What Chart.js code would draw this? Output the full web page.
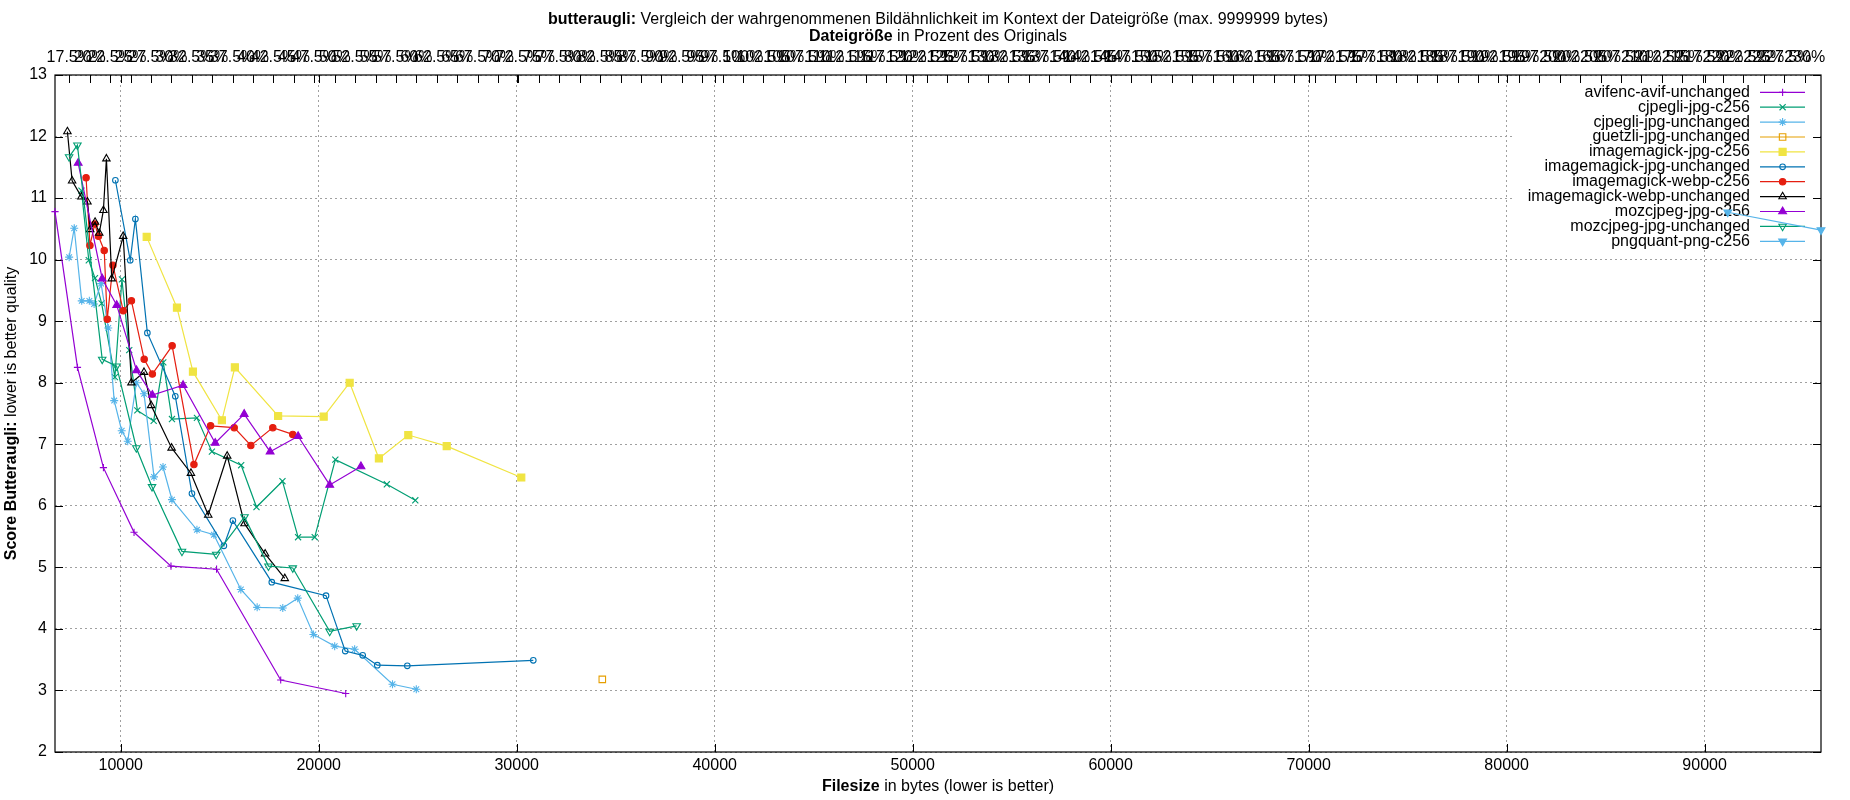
<!DOCTYPE html>
<html>
<head>
<meta charset="utf-8">
<script src="https://cdn.jsdelivr.net/npm/chart.js@4/dist/chart.umd.min.js"></script>
<style>
html,body{margin:0;padding:0;background:#fff;}
#wrap{position:relative;width:1850px;height:800px;}
canvas{display:block;}
</style>
</head>
<body>
<div id="wrap"><canvas id="c" width="1850" height="800" style="width:1850px;height:800px"></canvas></div>
<script>
// ---------- data (filesize in bytes, butteraugli score) ----------
const avifencAvifUnchanged = [[6680,10.78],[7815,8.25],[9126,6.62],[10672,5.57],[12538,5.02],[14840,4.97],[18080,3.17],[21364,2.95]];
const cjpegliJpgC256 = [[8017,11.12],[8387,9.99],[8700,9.70],[9035,9.29],[9705,8.09],[10060,9.68],[10430,8.53],[10840,7.55],[11664,7.38],[12150,8.33],[12588,7.41],[13849,7.43],[14605,6.88],[16084,6.66],[16857,5.98],[18168,6.40],[18958,5.49],[19798,5.49],[20840,6.75],[23440,6.35],[24879,6.09]];
const cjpegliJpgUnchanged = [[7395,10.04],[7650,10.51],[8030,9.33],[8415,9.33],[8655,9.28],[9008,9.61],[9370,8.89],[9670,7.71],[10050,7.22],[10353,7.05],[10790,8.00],[11176,7.82],[11681,6.47],[12135,6.63],[12588,6.10],[13849,5.61],[14706,5.53],[16067,4.64],[16891,4.35],[18185,4.34],[18941,4.50],[19731,3.91],[20807,3.72],[21815,3.67],[23727,3.10],[24929,3.02]];
const guetzliJpgUnchanged = [[34324,3.18]];
const imagemagickJpgC256 = [[11311,10.37],[12840,9.22],[13647,8.18],[15109,7.39],[15765,8.25],[17950,7.46],[20252,7.45],[21563,8.00],[23040,6.77],[24525,7.15],[26465,6.97],[30232,6.46]];
const imagemagickJpgUnchanged = [[9730,11.29],[10480,9.99],[10740,10.66],[11345,8.81],[12757,7.78],[13597,6.20],[15210,5.35],[15664,5.76],[17630,4.76],[20370,4.54],[21340,3.64],[22222,3.57],[22960,3.41],[24475,3.40],[30838,3.49]];
const imagemagickWebpC256 = [[8250,11.33],[8445,10.23],[8690,10.58],[8875,10.38],[9166,10.15],[9318,9.03],[9605,9.91],[10125,9.17],[10540,9.33],[11185,8.38],[11597,8.14],[12597,8.60],[13698,6.67],[14538,7.30],[15731,7.27],[16572,6.98],[17681,7.27],[18689,7.16]];
const imagemagickWebpUnchanged = [[7307,12.08],[7545,11.28],[8014,11.02],[8318,10.94],[8460,10.49],[8704,10.61],[8914,10.43],[9124,10.80],[9277,11.64],[9546,9.69],[10125,10.38],[10540,8.00],[11176,8.17],[11538,7.63],[12571,6.94],[13546,6.53],[14420,5.85],[15378,6.81],[16252,5.71],[17294,5.22],[18286,4.82]];
const mozcjpegJpgC256 = [[7850,11.57],[9065,9.69],[9798,9.26],[10800,8.20],[11597,7.80],[13150,7.96],[14773,7.02],[16235,7.49],[17546,6.88],[18958,7.13],[20555,6.34],[22134,6.64]];
const mozcjpegJpgUnchanged = [[7392,11.67],[7812,11.86],[9065,8.38],[9790,8.27],[10790,6.94],[11580,6.31],[13093,5.26],[14823,5.21],[16252,5.82],[17462,5.02],[18689,4.99],[20555,3.96],[21916,4.05]];
const pngquantPngC256 = [[91172,10.77],[95880,10.48]];

// ---------- tick values ----------
const xTicks = [10000,20000,30000,40000,50000,60000,70000,80000,90000];
const yTicks = [2,3,4,5,6,7,8,9,10,11,12,13];
const pctTicks = [17.5,20,22.5,25,27.5,30,32.5,35,37.5,40,42.5,45,47.5,50,52.5,55,57.5,60,62.5,65,67.5,70,72.5,75,77.5,80,82.5,85,87.5,90,92.5,95,97.5,100,102.5,105,107.5,110,112.5,115,117.5,120,122.5,125,127.5,130,132.5,135,137.5,140,142.5,145,147.5,150,152.5,155,157.5,160,162.5,165,167.5,170,172.5,175,177.5,180,182.5,185,187.5,190,192.5,195,197.5,200,202.5,205,207.5,210,212.5,215,217.5,220,222.5,225,227.5,230];
const PCT_MIN = 15.75, PCT_MAX = 232.0;

const FONT = '"Liberation Sans", Arial, "DejaVu Sans", sans-serif';
const GRID = '#a0a0a0';
Chart.defaults.font.family = FONT;
Chart.defaults.font.size = 16;
Chart.defaults.color = '#000';

const allSeries = [avifencAvifUnchanged,cjpegliJpgC256,cjpegliJpgUnchanged,guetzliJpgUnchanged,imagemagickJpgC256,imagemagickJpgUnchanged,imagemagickWebpC256,imagemagickWebpUnchanged,mozcjpegJpgC256,mozcjpegJpgUnchanged,pngquantPngC256];
const allX = allSeries.flat().map(p => p[0]);
const X_MIN = Math.min(...allX), X_MAX = Math.max(...allX);

function mk(label, data, color, style, radius, filled, rotation, idx) {
  return {
    label, data: data.map(([x, y]) => ({x, y})),
    borderColor: color, backgroundColor: color,
    pointBackgroundColor: filled ? color : 'rgba(0,0,0,0)',
    pointBorderColor: color, pointStyle: style, pointRadius: radius, pointHoverRadius: radius,
    pointBorderWidth: 1.1, pointRotation: rotation || 0,
    borderWidth: 1.2, showLine: true, tension: 0, clip: false, order: 20 - idx,
    xAxisID: 'x', yAxisID: 'y'
  };
}

const datasets = [
  mk('avifenc-avif-unchanged', avifencAvifUnchanged, '#9400d3', 'cross', 3.6, false, 0, 0),
  mk('cjpegli-jpg-c256', cjpegliJpgC256, '#009e73', 'crossRot', 4.3, false, 0, 1),
  mk('cjpegli-jpg-unchanged', cjpegliJpgUnchanged, '#56b4e9', 'star', 4, false, 0, 2),
  mk('guetzli-jpg-unchanged', guetzliJpgUnchanged, '#e69f00', 'rect', 4.6, false, 0, 3),
  mk('imagemagick-jpg-c256', imagemagickJpgC256, '#f0e442', 'rect', 5, true, 0, 4),
  mk('imagemagick-jpg-unchanged', imagemagickJpgUnchanged, '#0072b2', 'circle', 2.8, false, 0, 5),
  mk('imagemagick-webp-c256', imagemagickWebpC256, '#e51e10', 'circle', 3.2, true, 0, 6),
  mk('imagemagick-webp-unchanged', imagemagickWebpUnchanged, '#000000', 'triangle', 4.3, false, 0, 7),
  mk('mozcjpeg-jpg-c256', mozcjpegJpgC256, '#9400d3', 'triangle', 4.5, true, 0, 8),
  mk('mozcjpeg-jpg-unchanged', mozcjpegJpgUnchanged, '#009e73', 'triangle', 4.3, false, 180, 9),
  mk('pngquant-png-c256', pngquantPngC256, '#56b4e9', 'triangle', 4.5, true, 180, 10)
];

const LEG = {left: 1514, bottom: 249, textRight: 1750, lineX1: 1760, lineX2: 1805, markX: 1782.6, rowY0: 92.3, rowH: 14.9};

function drawMixed(ctx, parts, cx, cy, angle) {
  ctx.save();
  ctx.translate(cx, cy);
  ctx.rotate(angle || 0);
  let total = 0;
  parts.forEach(p => { ctx.font = (p.b ? 'bold ' : '') + '16px ' + FONT; p.w = ctx.measureText(p.t).width; total += p.w; });
  let x = -total / 2;
  ctx.textBaseline = 'middle'; ctx.textAlign = 'left'; ctx.fillStyle = '#000';
  parts.forEach(p => { ctx.font = (p.b ? 'bold ' : '') + '16px ' + FONT; ctx.fillText(p.t, x, 0); x += p.w; });
  ctx.restore();
}

function drawMarker(ctx, ds, x, y) {
  ctx.save();
  ctx.fillStyle = ds.pointBackgroundColor;
  ctx.strokeStyle = ds.pointBorderColor;
  ctx.lineWidth = ds.pointBorderWidth;
  const opts = {pointStyle: ds.pointStyle, rotation: ds.pointRotation, radius: ds.pointRadius, borderWidth: ds.pointBorderWidth};
  if (Chart.helpers && Chart.helpers.drawPoint) {
    Chart.helpers.drawPoint(ctx, opts, x, y);
  } else {
    ctx.beginPath(); ctx.arc(x, y, ds.pointRadius, 0, Math.PI * 2); ctx.fill(); ctx.stroke();
  }
  ctx.restore();
}

const gnuplotLook = {
  id: 'gnuplotLook',
  beforeDatasetsDraw(chart) {
    const {ctx, chartArea: a, scales} = chart;
    ctx.save();
    // opaque key box
    ctx.fillStyle = '#fff';
    ctx.fillRect(LEG.left, a.top + 1, a.right - 1 - LEG.left, LEG.bottom - a.top - 1);
    // key entries
    chart.data.datasets.forEach((ds, i) => {
      const y = LEG.rowY0 + i * LEG.rowH;
      ctx.font = '16px ' + FONT; ctx.fillStyle = '#000';
      ctx.textAlign = 'right'; ctx.textBaseline = 'middle';
      ctx.fillText(ds.label, LEG.textRight, y);
      ctx.strokeStyle = ds.borderColor; ctx.lineWidth = ds.borderWidth;
      ctx.beginPath(); ctx.moveTo(LEG.lineX1, y); ctx.lineTo(LEG.lineX2, y); ctx.stroke();
      drawMarker(ctx, ds, LEG.markX, y);
    });
    // border
    ctx.strokeStyle = '#000'; ctx.lineWidth = 1.2;
    ctx.strokeRect(a.left, a.top, a.right - a.left, a.bottom - a.top);
    // inward tics
    const TL = 8;
    ctx.lineWidth = 1;
    ctx.beginPath();
    scales.y.ticks.forEach(t => {
      const y = Math.round(scales.y.getPixelForValue(t.value)) + 0.5;
      ctx.moveTo(a.left, y); ctx.lineTo(a.left + TL, y);
      ctx.moveTo(a.right, y); ctx.lineTo(a.right - TL, y);
    });
    scales.x.ticks.forEach(t => {
      const x = Math.round(scales.x.getPixelForValue(t.value)) + 0.5;
      ctx.moveTo(x, a.bottom); ctx.lineTo(x, a.bottom - TL);
      ctx.moveTo(x, a.top); ctx.lineTo(x, a.top + TL);
    });
    scales.x2.ticks.forEach(t => {
      const x = Math.round(scales.x2.getPixelForValue(t.value)) + 0.5;
      ctx.moveTo(x, a.top); ctx.lineTo(x, a.top + TL);
    });
    ctx.stroke();
    ctx.restore();
  },
  afterDraw(chart) {
    const {ctx, chartArea: a} = chart;
    const cx = (a.left + a.right) / 2;
    drawMixed(ctx, [{t: 'butteraugli:', b: true}, {t: ' Vergleich der wahrgenommenen Bildähnlichkeit im Kontext der Dateigröße (max. 9999999 bytes)'}], cx, 20);
    drawMixed(ctx, [{t: 'Dateigröße', b: true}, {t: ' in Prozent des Originals'}], cx, 37);
    drawMixed(ctx, [{t: 'Filesize', b: true}, {t: ' in bytes (lower is better)'}], cx, 786.5);
    drawMixed(ctx, [{t: 'Score Butteraugli:', b: true}, {t: ' lower is better quality'}], 12, (a.top + a.bottom) / 2, -Math.PI / 2);
  }
};

const tickFont = {family: FONT, size: 16};

new Chart(document.getElementById('c'), {
  type: 'scatter',
  data: {datasets},
  options: {
    responsive: false, animation: false, devicePixelRatio: 1, events: [],
    layout: {padding: {left: 0, right: 29, top: 0, bottom: 0}},
    plugins: {legend: {display: false}, title: {display: false}, tooltip: {enabled: false}},
    scales: {
      x: {
        type: 'linear', position: 'bottom', min: X_MIN, max: X_MAX,
        afterBuildTicks: s => { s.ticks = xTicks.map(v => ({value: v})); },
        afterFit: s => { s.height = 48; s.paddingLeft = 0; s.paddingRight = 0; },
        grid: {color: GRID, lineWidth: 1, drawTicks: false},
        border: {display: false, dash: [2, 3]},
        ticks: {font: tickFont, color: '#000', padding: 4, maxRotation: 0, minRotation: 0, autoSkip: false, callback: v => String(v)}
      },
      x2: {
        type: 'linear', position: 'top', min: PCT_MIN, max: PCT_MAX,
        afterBuildTicks: s => { s.ticks = pctTicks.map(v => ({value: v})); },
        afterFit: s => { s.height = 75; s.paddingLeft = 0; s.paddingRight = 0; },
        grid: {display: false, drawTicks: false},
        border: {display: false},
        ticks: {font: tickFont, color: '#000', padding: 8, maxRotation: 0, minRotation: 0, autoSkip: false, callback: v => v + '%'}
      },
      y: {
        type: 'linear', position: 'left', min: 2, max: 13,
        afterBuildTicks: s => { s.ticks = yTicks.map(v => ({value: v})); },
        afterFit: s => { s.width = 55; s.paddingTop = 0; s.paddingBottom = 0; },
        grid: {color: GRID, lineWidth: 1, drawTicks: false},
        border: {display: false, dash: [2, 3]},
        ticks: {font: tickFont, color: '#000', padding: 8, callback: v => String(v)}
      }
    }
  },
  plugins: [gnuplotLook]
});
</script>
</body>
</html>
